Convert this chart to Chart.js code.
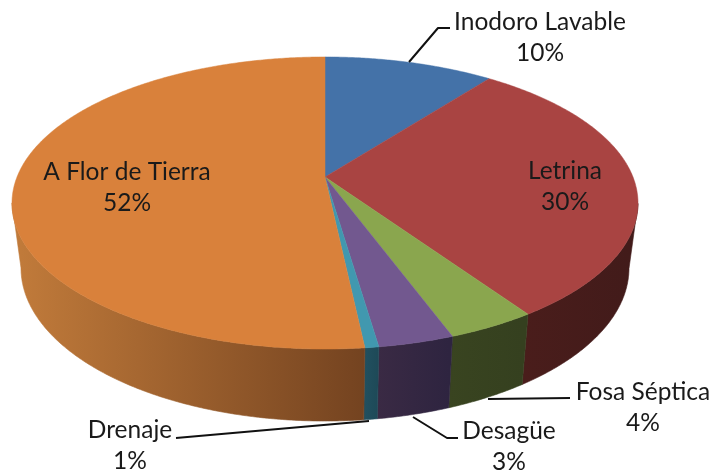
<!DOCTYPE html>
<html><head><meta charset="utf-8">
<style>html,body{margin:0;padding:0;background:#fff}canvas{display:block}</style>
<script src="https://cdn.jsdelivr.net/npm/chart.js@4/dist/chart.umd.min.js"></script>
</head><body><canvas id="c" width="713" height="476"></canvas>
<script>
const categories = ["Inodoro Lavable","Letrina","Fosa Séptica","Desagüe","Drenaje","A Flor de Tierra"];
const values = [10.4,30.1,3.9,3.3,0.6,51.7];
const faceColors = ["#4472a8","#a94442","#8aa64e","#72588f","#4198af","#d9813b"];
const wallColors = [["#2c4a6e","#2c4a6e"],["#4a1d1b","#421b1a"],["#394420","#35401f"],["#3a2a44","#2e2440"],["#215060","#1e4a58"],["#c07a3a","#744320"]];

// Layout of the tilted disc (perspective view of a circle)
const V = {x:325,y:177,rx:308,ry:141.4,p:-0.178};
const TOP = {x:325,y:203,rx:313,ry:146};
const BOT = {x:325,y:268,rx:304,ry:153};
const labelLayout = [
  {x:540,y:22},{x:565,y:171},{x:643,y:392},{x:509,y:431},{x:130,y:430},{x:127,y:172}
];
const leaders = [
  [[409,62],[438,28],[450,28]],
  [[488,399],[570,398]],
  [[413,417],[447,438],[458,438]],
  [[369,421],[176,438]]
];
function project(a){
  const ux=Math.cos(a),uy=Math.sin(a),d=1+V.p*uy;
  return {x:V.x+V.rx*ux/d,y:V.y+V.ry*uy/d};
}
function lower(pt){
  const ex=(pt.x-TOP.x)/TOP.rx,ey=(pt.y-TOP.y)/TOP.ry;
  return {x:BOT.x+BOT.rx*ex,y:BOT.y+BOT.ry*ey};
}
const disc3d = {
  id:'disc3d',
  beforeDatasetDraw(chart,args){
    const ctx=chart.ctx,arcs=chart.getDatasetMeta(args.index).data;
    ctx.save();
    // side wall
    arcs.forEach((arc,i)=>{
      const {startAngle:s,endAngle:e}=arc.getProps(['startAngle','endAngle'],true);
      const n=Math.max(2,Math.ceil((e-s)*120));
      const front=[];
      for(let k=0;k<=n;k++){
        const p=project(s+(e-s)*k/n);
        if(p.y>=TOP.y-0.5) front.push(p);
      }
      if(front.length<2) return;
      const low=front.map(lower);
      const g=ctx.createLinearGradient(Math.min(...low.map(p=>p.x)),0,Math.max(...low.map(p=>p.x)),0);
      const reversed=front[0].x>front[front.length-1].x;
      g.addColorStop(0,wallColors[i][reversed?0:1]);
      g.addColorStop(1,wallColors[i][reversed?1:0]);
      ctx.beginPath();
      front.forEach((p,k)=>k?ctx.lineTo(p.x,p.y):ctx.moveTo(p.x,p.y));
      low.reverse().forEach(p=>ctx.lineTo(p.x,p.y));
      ctx.closePath();
      ctx.fillStyle=g;ctx.strokeStyle=g;ctx.lineWidth=0.6;
      ctx.fill();ctx.stroke();
    });
    // top face
    arcs.forEach((arc,i)=>{
      const {startAngle:s,endAngle:e}=arc.getProps(['startAngle','endAngle'],true);
      const n=Math.max(2,Math.ceil((e-s)*120));
      ctx.beginPath();ctx.moveTo(V.x,V.y);
      for(let k=0;k<=n;k++){const p=project(s+(e-s)*k/n);ctx.lineTo(p.x,p.y);}
      ctx.closePath();
      ctx.fillStyle=arc.options.backgroundColor;ctx.strokeStyle=arc.options.backgroundColor;ctx.lineWidth=0.5;
      ctx.fill();ctx.stroke();
    });
    ctx.restore();
    return false;
  },
  afterDatasetsDraw(chart){
    const ctx=chart.ctx,total=values.reduce((a,b)=>a+b,0);
    ctx.save();
    ctx.strokeStyle="#111";ctx.lineWidth=2;ctx.lineJoin="round";
    leaders.forEach(l=>{ctx.beginPath();l.forEach((p,k)=>k?ctx.lineTo(p[0],p[1]):ctx.moveTo(p[0],p[1]));ctx.stroke();});
    ctx.fillStyle="#1a1a1a";ctx.font='24.5px Lato';ctx.textAlign="center";ctx.textBaseline="middle";
    categories.forEach((c,i)=>{
      const L=labelLayout[i];
      ctx.fillText(c,L.x,L.y);
      ctx.fillText(Math.round(values[i]/total*100)+"%",L.x,L.y+31);
    });
    ctx.restore();
  }
};
new Chart(document.getElementById('c'),{
  type:'pie',
  data:{labels:categories,datasets:[{data:values,backgroundColor:faceColors,borderWidth:0}]},
  options:{responsive:false,animation:false,plugins:{legend:{display:false},tooltip:{enabled:false}}},
  plugins:[disc3d]
});
</script></body></html>
